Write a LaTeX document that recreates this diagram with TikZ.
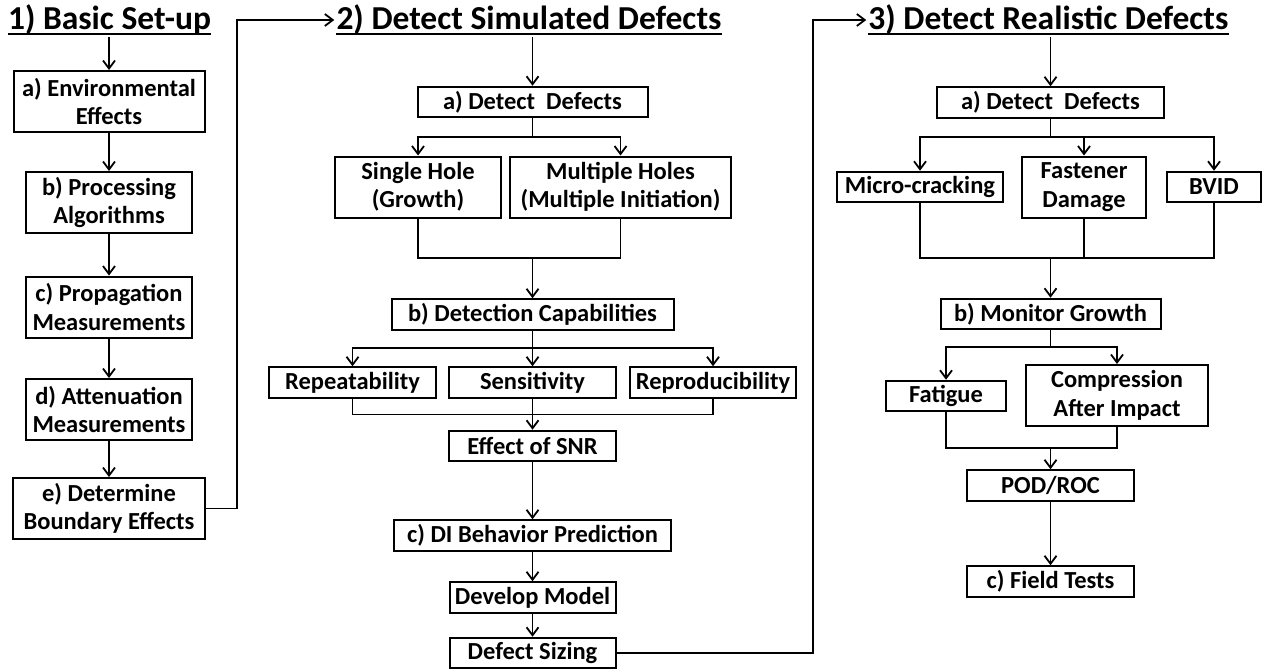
\documentclass[tikz,border=0pt]{standalone}
\usepackage{fontspec}
\setmainfont{Carlito}
\usetikzlibrary{arrows.meta}

\tikzset{
  box/.style={draw,line width=2pt,inner sep=0pt,align=center,
    font=\fontsize{24.5}{28.5}\selectfont\bfseries},
  one/.style={minimum height=30.5pt},
  two/.style={minimum height=61pt},
  ttl/.style={inner sep=0pt,anchor=base,font=\fontsize{33.5}{38}\selectfont\bfseries},
  ln/.style={line width=1.8pt},
  arr/.style={ln,-{Straight Barb[length=8pt,width=12pt]}}
}

\begin{document}
\begin{tikzpicture}[x=1pt,y=-1pt]
\useasboundingbox (0,0) rectangle (1268,669);

\node[ttl] (t1) at (109.5,30) {1) Basic Set-up};
\node[ttl] (t2) at (529,30) {2) Detect Simulated Defects};
\node[ttl] (t3) at (1048.5,30) {3) Detect Realistic Defects};
\foreach \t in {t1,t2,t3}
  \draw[ln] ([yshift=-4pt]\t.base west) -- ([yshift=-4pt]\t.base east) ; % underline

% 1) basic set-up
\node[box,two,minimum width=191pt] (e1) at (109,101.5) {a) Environmental\\Effects};
\node[box,two,minimum width=166pt] (e2) at (109,202.5) {b) Processing\\Algorithms};
\node[box,two,minimum width=166pt] (e3) at (109,307) {c) Propagation\\Measurements};
\node[box,two,minimum width=166pt] (e4) at (109,409.5) {d) Attenuation\\Measurements};
\node[box,two,minimum width=192pt] (e5) at (109,508.5) {e) Determine\\Boundary Effects};

\draw[arr,shorten <=2pt] (t1.south -| e1.north) -- (e1);
\foreach \a/\b in {e1/e2,e2/e3,e3/e4,e4/e5}
  \draw[arr] (\a) -- (\b);
\coordinate (k1) at (237,20);
\draw[arr,shorten >=2pt] (e5.east) -| (k1) -- (k1 -| t2.west) ;

% 2) simulated defects
\node[box,one,minimum width=230pt] (d1) at (532.5,102) {a) Detect\ \ Defects};
\node[box,two,minimum width=166pt] (s1) at (418,187) {Single Hole\\(Growth)};
\node[box,two,minimum width=221pt] (m1) at (620.5,187) {Multiple Holes\\(Multiple Initiation)};
\node[box,one,minimum width=282pt] (d2) at (532.5,314.5) {b) Detection Capabilities};
\node[box,one,minimum width=167pt] (r1) at (352.5,382.5) {Repeatability};
\node[box,one,minimum width=167pt] (r2) at (532.5,382.5) {Sensitivity};
\node[box,one,minimum width=166pt] (r3) at (713,382.5) {Reproducibility};
\node[box,one,minimum width=167pt] (snr) at (532.5,446) {Effect of SNR};
\node[box,one,minimum width=277pt] (d3) at (532.5,535.5) {c) DI Behavior Prediction};
\node[box,one,minimum width=166pt] (dm) at (532.5,597.5) {Develop Model};
\node[box,one,minimum width=166pt] (ds) at (532.5,653) {Defect Sizing};

\draw[arr,shorten <=2pt] (t2.south -| d1.north) -- (d1);
\coordinate (sp1) at (532.5,137);
\draw[ln] (d1) -- (sp1);
\draw[arr] (sp1) -| (s1);
\draw[arr] (sp1) -| (m1);
\coordinate (jn1) at (532.5,258);
\draw[ln] (s1) |- (jn1);
\draw[ln] (m1) |- (jn1);
\draw[arr] (jn1) -- (d2);
\coordinate (sp2) at (532.5,348);
\draw[ln] (d2) -- (sp2);
\foreach \r in {r1,r2,r3}
  \draw[arr] (sp2) -| (\r);
\coordinate (jn2) at (532.5,414.5);
\foreach \r in {r1,r3}
  \draw[ln] (\r) |- (jn2);
\draw[arr] (r2) -- (snr);
\draw[arr] (snr) -- (d3);
\draw[arr] (d3) -- (dm);
\draw[arr] (dm) -- (ds);
\coordinate (k2) at (813,20);
\draw[arr,shorten >=2pt] (ds.east) -| (k2) -- (k2 -| t3.west) ;

% 3) realistic defects
\node[box,one,minimum width=227pt] (f1) at (1050.5,102.5) {a) Detect\ \ Defects};
\node[box,one,minimum width=166pt] (mc) at (920,187) {Micro-cracking};
\node[box,two,minimum width=124pt] (fd) at (1084,187) {Fastener\\Damage};
\node[box,one,minimum width=94pt] (bv) at (1214,187) {BVID};
\node[box,one,minimum width=220pt] (mg) at (1050.5,314) {b) Monitor Growth};
\node[box,one,minimum width=120pt] (fa) at (946,396) {Fatigue};
\node[box,two,minimum width=182pt] (ca) at (1117,395.5) {Compression\\After Impact};
\node[box,one,minimum width=167pt] (pr) at (1050.5,485.5) {POD/ROC};
\node[box,one,minimum width=167pt] (ft) at (1050.5,581.5) {c) Field Tests};

\draw[arr,shorten <=2pt] (t3.south -| f1.north) -- (f1);
\coordinate (sp3) at (1050.5,137);
\draw[ln] (f1) -- (sp3);
\foreach \r in {mc,fd,bv}
  \draw[arr] (sp3) -| (\r);
\coordinate (jn3) at (1050.5,258);
\foreach \r in {mc,fd,bv}
  \draw[ln] (\r) |- (jn3);
\draw[arr] (jn3) -- (mg);
\coordinate (sp4) at (1050.5,347);
\draw[ln] (mg) -- (sp4);
\draw[arr] (sp4) -| (fa);
\draw[arr] (sp4) -| (ca);
\coordinate (jn4) at (1050.5,448);
\draw[ln] (fa) |- (jn4);
\draw[ln] (ca) |- (jn4);
\draw[arr] (jn4) -- (pr);
\draw[arr] (pr) -- (ft);

\end{tikzpicture}
\end{document}
